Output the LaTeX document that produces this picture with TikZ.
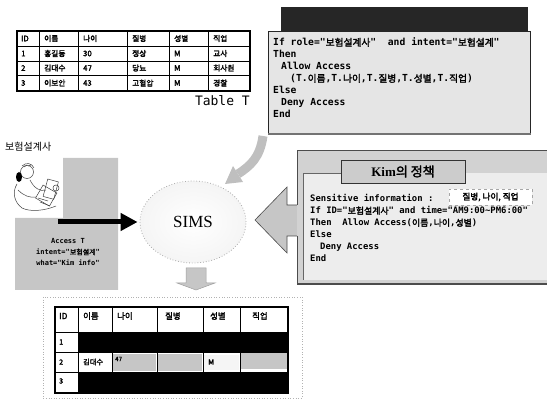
\documentclass[tikz,border=0pt]{standalone}
\usepackage{fontspec}
\setmainfont{Liberation Serif}
\newfontfamily\krfont{Noto Sans CJK KR}[AutoFakeBold=2.2]
\newfontfamily\codefont{DejaVu Sans Mono}
\usetikzlibrary{arrows.meta,shapes.geometric,shadings}
\newcommand\kr[1]{{\krfont #1}}

\tikzset{
  cell/.style={font=\krfont\bfseries\fontsize{7.7}{8}\selectfont, anchor=west, inner sep=0pt},
  bcell/.style={font=\krfont\bfseries\fontsize{7.2}{8}\selectfont, anchor=west, inner sep=0pt},
  hcell/.style={font=\krfont\bfseries\fontsize{8.4}{9}\selectfont, anchor=west, inner sep=0pt},
  code/.style={font=\codefont\bfseries\fontsize{9.7}{10}\selectfont, anchor=base west, inner sep=0pt},
  kcode/.style={font=\codefont\bfseries\fontsize{8.9}{10}\selectfont, anchor=base west, inner sep=0pt},
  req/.style={font=\codefont\bfseries\fontsize{7}{8}\selectfont, inner sep=0pt},
  halftone/.style={fill=gray!45},
  thingrid/.style={line width=0.6pt},
}

\begin{document}
\begin{tikzpicture}[x=1pt,y=-1pt]
\useasboundingbox (0,0) rectangle (547,403);

% ---------- Table T ----------
\foreach \y in {46,61,75} \draw[thingrid] (17,\y) -- (250,\y);
\foreach \x in {39,78,127,169,208} \draw[thingrid] (\x,31) -- (\x,91);
\draw[line width=1.3pt] (17,31) rectangle (250,91);
\foreach \r/\y/\a/\b/\c/\d/\e/\f in {
  0/38.5/ID/이름/나이/질병/성별/직업,
  1/53.5/1/홍길동/30/정상/M/교사,
  2/68/2/김대수/47/당뇨/M/회사원,
  3/83/3/이보안/43/고혈압/M/경찰}{
  \node[cell] (t\r a) at (21,\y) {\a};
  \node[cell] (t\r b) at (44,\y) {\b};
  \node[cell] (t\r c) at (83,\y) {\c};
  \node[cell] (t\r d) at (132,\y) {\d};
  \node[cell] (t\r e) at (174,\y) {\e};
  \node[cell] (t\r f) at (213,\y) {\f};
}
\node[font=\codefont\fontsize{13}{13}\selectfont, anchor=base east, inner sep=0pt] (ttitle) at (250,106) {Table T};

% ---------- general access rule ----------
\fill[black!85] (281,7) rectangle (528,32);
\node[draw=black!85, fill=gray!20, line width=0.8pt, minimum width=262pt, minimum height=102pt, anchor=north west, inner sep=0pt] (rule) at (268,31) {};
\draw[line width=2pt, black!55] (rule.south west) -- (rule.south east);
\node[code] (r1) at (273,46) {If role="\kr{보험설계사}"\ \ and intent="\kr{보험설계}"};
\node[code] (r2) at (273,58) {Then};
\node[code] (r3) at (281,70) {Allow Access};
\node[code] (r4) at (290,82) {(T.\kr{이름},T.\kr{나이},T.\kr{질병},T.\kr{성별},T.\kr{직업})};
\node[code] (r5) at (273,94) {Else};
\node[code] (r6) at (281,106) {Deny Access};
\node[code] (r7) at (273,118) {End};

% curved arrow from the rule down to SIMS
\coordinate (ca1) at (263,136);
\coordinate (ca2) at (238,174);
\draw[line width=9pt, gray!50] (ca1) .. controls (260,158) and (250,166) .. (ca2);
\fill[gray!50] (243,182) -- (233,166) -- (225,184) -- cycle;

% ---------- requester ----------
\node[font=\krfont\fontsize{10}{10}\selectfont, anchor=west, inner sep=0pt] (role) at (5,147) {보험설계사};
\fill[halftone] (63,158) -- (118,158) -- (118,290) -- (15,290) -- (15,218) -- (63,218) -- cycle;

% person on the phone
\begin{scope}[line width=0.5pt, black!75]
  \draw (27,172) circle (6.5);
  \draw (22,166) .. controls (26,162) and (32,163) .. (34,168);
  \draw (24,167) -- (27,165) (28,166) -- (31,165);
  \fill[black] (19,177) ellipse (3 and 5);
  \draw (17,184) .. controls (12,192) and (14,202) .. (22,208);
  \draw (22,208) .. controls (30,212) and (44,211) .. (56,206);
  \draw (30,180) .. controls (34,188) and (40,192) .. (46,190);
  \draw (18,190) .. controls (24,196) and (30,198) .. (36,197);
  \draw[rotate around={-30:(46,196)}] (38,188) rectangle (54,203);
  \draw[rotate around={-15:(50,190)}] (45,180) rectangle (56,198);
  \draw (56,188) circle (3);
  \draw (40,202) -- (50,206) (38,198) -- (48,201);
\end{scope}

\node[req] (q1) at (68,241) {Access T};
\node[req] (q2) at (68,252) {intent="\kr{보험설계}"};
\node[req] (q3) at (68,263) {what="Kim info"};

% ---------- SIMS ----------
\node[ellipse, draw=gray!65, dotted, line width=0.8pt, inner color=white, outer color=gray!8,
      minimum width=106pt, minimum height=82pt, font=\fontsize{17}{17}\selectfont] (sims) at (193,222) {SIMS};
\coordinate (src) at (58,222);
\draw[line width=5pt, -{Triangle[length=17pt,width=17pt]}] (src) -- ([xshift=-2pt]sims.west);

% result arrow below SIMS
\draw[fill=gray!45, draw=gray!75, line width=0.5pt] (186,268) -- (206,268) -- (206,283) -- (215,283) -- (196,290) -- (177,283) -- (186,283) -- cycle;

% ---------- Kim's privacy policy ----------
\draw[fill=gray!45, draw=black!70, line width=0.6pt] (255,220) -- (287,187) -- (287,205) -- (299,205) -- (299,236) -- (287,236) -- (287,253) -- cycle;
\fill[gray!35] (297,150) rectangle (547,285);
\draw[black!70, line width=0.6pt] (297,205) -- (297,150) -- (547,150);
\draw[black!70, line width=0.6pt] (297,236) -- (297,285);
\fill[gray!14] (303,173) rectangle (547,280);
\draw[black!60, line width=0.6pt] (303,280) -- (303,173) -- (341,173);
\draw[line width=2pt, black!70] (297,284) -- (547,284);
\node[draw=black!80, fill=gray!40, line width=0.8pt, minimum width=124pt, minimum height=23pt,
      font=\bfseries\fontsize{13}{13}\selectfont] (kimhd) at (403,171.5) {Kim\kr{의 정책}};
\node[draw=gray!70, dashed, fill=white, minimum width=83pt, minimum height=16pt, inner sep=0pt,
      font=\krfont\bfseries\fontsize{8.6}{9}\selectfont] (sens) at (490.5,197) {질병, 나이, 직업};
\node[kcode] (k1) at (310,202) {Sensitive information :};
\node[kcode] (k2) at (310,214) {If ID="\kr{보험설계사}" and time="AM9:00\textasciitilde PM6:00"};
\node[kcode] (k3) at (310,226) {Then\ \ Allow Access(\kr{이름},\kr{나이},\kr{성별})};
\node[kcode] (k4) at (310,238) {Else};
\node[kcode] (k5) at (320,250) {Deny Access};
\node[kcode] (k6) at (310,262) {End};

% ---------- filtered result ----------
\draw[gray!60, dotted, line width=0.6pt] (43,297) rectangle (302,398);
\fill[black] (78,332) rectangle (288,352);
\fill[black] (78,372) rectangle (288,393);
\fill[gray!45] (113,354) rectangle (156,371);
\fill[gray!45] (158,354) rectangle (202,371);
\fill[gray!8] (204,355) rectangle (239,370);
\fill[gray!45] (241,353) rectangle (287,369);
\foreach \y in {332,352,372} \draw[thingrid] (55,\y) -- (288,\y);
\foreach \x in {78,112,157,203,240} \draw[thingrid] (\x,307) -- (\x,352) (\x,352) -- (\x,372);
\draw[line width=1.6pt] (55,307) rectangle (288,393);
\foreach \n/\x/\t in {a/59/ID,b/83/이름,c/117/나이,d/165/질병,e/210/성별,f/252/직업}
  \node[hcell] (h\n) at (\x,316) {\t};
\node[bcell] (o1) at (59,342) {1};
\node[bcell] (o2) at (59,362) {2};
\node[bcell] (o3) at (59,381) {3};
\node[bcell] (o2b) at (83,362) {김대수};
\node[bcell, font=\krfont\bfseries\fontsize{6}{6}\selectfont] (o2c) at (115,359) {47};
\node[bcell] (o2e) at (208,362) {M};
\end{tikzpicture}
\end{document}
